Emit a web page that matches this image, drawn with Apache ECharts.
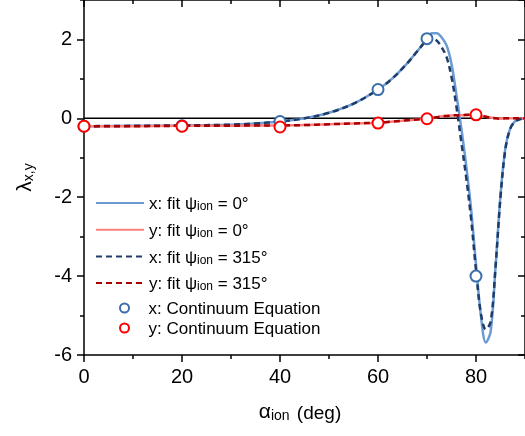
<!DOCTYPE html>
<html><head><meta charset="utf-8">
<script src="https://cdn.jsdelivr.net/npm/echarts@6/dist/echarts.min.js"></script>
<style>html,body{margin:0;padding:0;background:#fff}#c{width:525px;height:436px}</style>
</head><body><div id="c"></div>
<script>
// ---- data ----
const fitAlpha = [0,10,20,30,35,40,45,50,55,60,63,66,68,69,70,71,72,73,74,75,76,77,78,79,80,81,82,83,84,85,86,87,88,89,90];
const xFit0   = [-0.20,-0.19,-0.18,-0.16,-0.13,-0.08,0.00,0.14,0.37,0.73,1.02,1.40,1.70,1.86,2.02,2.16,2.16,2.05,1.85,1.38,0.60,-0.25,-1.20,-2.30,-3.70,-5.00,-5.68,-5.40,-3.75,-1.95,-0.75,-0.25,-0.07,-0.02,0.00];
const yFit0   = [-0.20,-0.20,-0.19,-0.19,-0.18,-0.18,-0.17,-0.15,-0.13,-0.11,-0.08,-0.05,-0.03,-0.02,-0.01,0.01,0.03,0.05,0.06,0.07,0.08,0.08,0.08,0.09,0.08,0.06,0.04,0.02,0.00,-0.01,0.00,0.00,0.00,0.00,0.00];
const xFit315 = [-0.20,-0.19,-0.18,-0.16,-0.13,-0.08,0.00,0.14,0.37,0.73,1.02,1.40,1.70,1.85,2.00,2.03,1.97,1.80,1.55,1.05,0.30,-0.60,-1.50,-2.55,-3.85,-4.95,-5.35,-5.15,-3.75,-2.00,-0.78,-0.26,-0.08,-0.02,0.00];
const yFit315 = [-0.20,-0.20,-0.19,-0.19,-0.18,-0.18,-0.17,-0.15,-0.13,-0.11,-0.08,-0.05,-0.03,-0.02,-0.01,0.01,0.03,0.05,0.06,0.07,0.08,0.08,0.09,0.09,0.09,0.07,0.04,0.02,0.00,-0.01,0.00,0.00,0.00,0.00,0.00];
const contAlpha = [0,20,40,60,70,80];
const xCont = [-0.20,-0.19,-0.08,0.73,2.02,-4.00];
const yCont = [-0.20,-0.20,-0.22,-0.12,-0.01,0.09];
const zeroAlpha = [0,90];
const zeroValue = [0,0];
const xTickStep = 20, xMinorStep = 10, xMin = 0, xMax = 90;
const yTickStep = 2, yMinorStep = 1, yMin = -6, yMax = 3;

const names = ['xfit0','yfit0','xfit315','yfit315','xcont','ycont'];
const legendText = {
  xfit0:   '{n|x: fit ψ}{s|ion}{n| = 0°}',
  yfit0:   '{n|y: fit ψ}{s|ion}{n| = 0°}',
  xfit315: '{n|x: fit ψ}{s|ion}{n| = 315°}',
  yfit315: '{n|y: fit ψ}{s|ion}{n| = 315°}',
  xcont:   '{n|x: Continuum Equation}',
  ycont:   '{n|y: Continuum Equation}'
};

const FONT = '"Liberation Sans", Arial, sans-serif';
const zip = (xs, ys) => xs.map((x, i) => [x, ys[i]]);
const blk = {color:'#000', width:1.5};

function xAx(pos, step, len, inside, main) {
  return {type:'value', position:pos, min:xMin, max:xMax, interval:step,
    axisLine:{show:main, onZero:false, lineStyle:blk},
    axisTick:{show:true, inside:inside, length:len, lineStyle:blk},
    axisLabel:{show:false}, splitLine:{show:false}};
}
function yAx(pos, step, len, inside, main) {
  return {type:'value', position:pos, min:yMin, max:yMax, interval:step,
    axisLine:{show:main, onZero:false, lineStyle:blk},
    axisTick:{show:true, inside:inside, length:len, lineStyle:blk},
    axisLabel:{show:false}, splitLine:{show:false}};
}

const xMain = xAx('bottom', xTickStep, 7, false, true);
xMain.axisLabel = {show:true, fontSize:20, color:'#000', fontFamily:FONT, margin:12, showMaxLabel:false};
xMain.name = '{a|α}{s|ion}{n| (deg)}';
xMain.nameLocation = 'middle';
xMain.nameGap = 46;
xMain.nameTextStyle = {color:'#000', rich:{
  a:{fontSize:21, fontFamily:FONT, color:'#000', lineHeight:22, verticalAlign:'bottom'},
  n:{fontSize:19, fontFamily:FONT, color:'#000', lineHeight:22, verticalAlign:'bottom', padding:[0,9,0,2]},
  s:{fontSize:14, fontFamily:FONT, color:'#000', lineHeight:10, verticalAlign:'bottom'}}};

const yMainAx = yAx('left', yTickStep, 7, false, true);
yMainAx.axisLabel = {show:true, fontSize:20, color:'#000', fontFamily:FONT, margin:12, showMaxLabel:false};
yMainAx.name = '{a|λ}{s|x,y}';
yMainAx.nameLocation = 'middle';
yMainAx.nameGap = 48;
yMainAx.nameTextStyle = {color:'#000', rich:{
  a:{fontSize:21, fontFamily:FONT, color:'#000', lineHeight:24, verticalAlign:'bottom'},
  s:{fontSize:14, fontFamily:FONT, color:'#000', lineHeight:10, verticalAlign:'bottom'}}};

const lineSeries = (name, ys, color, type, z) => ({
  name, type:'line', data:zip(fitAlpha, ys), symbol:'none', smooth:0.35, z,
  lineStyle:{color, width:2.5, type: type === 'dashed' ? [6,4] : 'solid'},
  itemStyle:{color}, animation:false
});
const scatterSeries = (name, ys, color, z) => ({
  name, type:'scatter', data:zip(contAlpha, ys), symbol:'circle', symbolSize:11, z,
  itemStyle:{color:'#fff', borderColor:color, borderWidth:2, opacity:1}, animation:false
});

const legendRich = {n:{fontSize:17, fontFamily:FONT, color:'#000', lineHeight:20, verticalAlign:'bottom'},
                    s:{fontSize:12, fontFamily:FONT, color:'#000', lineHeight:10, verticalAlign:'bottom'}};

const chart = echarts.init(document.getElementById('c'), null, {renderer:'canvas'});
chart.setOption({
  animation:false,
  backgroundColor:'#fff',
  grid:{left:84, right:-2, top:-2, bottom:81, containLabel:false},
  xAxis:[xMain, xAx('bottom', xMinorStep, 4, false, false), xAx('top', xTickStep, 7, true, true), xAx('top', xMinorStep, 4, true, false)],
  yAxis:[yMainAx, yAx('left', yMinorStep, 4, false, false), yAx('right', yTickStep, 7, true, true), yAx('right', yMinorStep, 4, true, false)],
  legend:[
    {data:names.slice(0,4), orient:'vertical', left:95, top:196, padding:0, itemWidth:48, itemHeight:14, itemGap:9.7,
     itemStyle:{opacity:0}, formatter:n => legendText[n], textStyle:{rich:legendRich}, selectedMode:false},
    {data:names.slice(4).map(n => ({name:n, icon:'circle'})), orient:'vertical', left:119, top:301, padding:0, itemWidth:38, itemHeight:9, itemGap:3,
     formatter:n => legendText[n], textStyle:{rich:legendRich}, selectedMode:false}
  ],
  series:[
    {name:'zero', type:'line', data:zip(zeroAlpha, zeroValue), symbol:'none', z:1,
     lineStyle:{color:'#000', width:1.5}, silent:true, animation:false},
    lineSeries('xfit0', xFit0, '#6A9BD2', 'solid', 2),
    lineSeries('yfit0', yFit0, '#FF8080', 'solid', 3),
    lineSeries('xfit315', xFit315, '#1F3C68', 'dashed', 4),
    lineSeries('yfit315', yFit315, '#A80000', 'dashed', 5),
    scatterSeries('xcont', xCont, '#3B6EA8', 6),
    scatterSeries('ycont', yCont, '#FF0000', 7)
  ]
});
</script>
</body></html>
